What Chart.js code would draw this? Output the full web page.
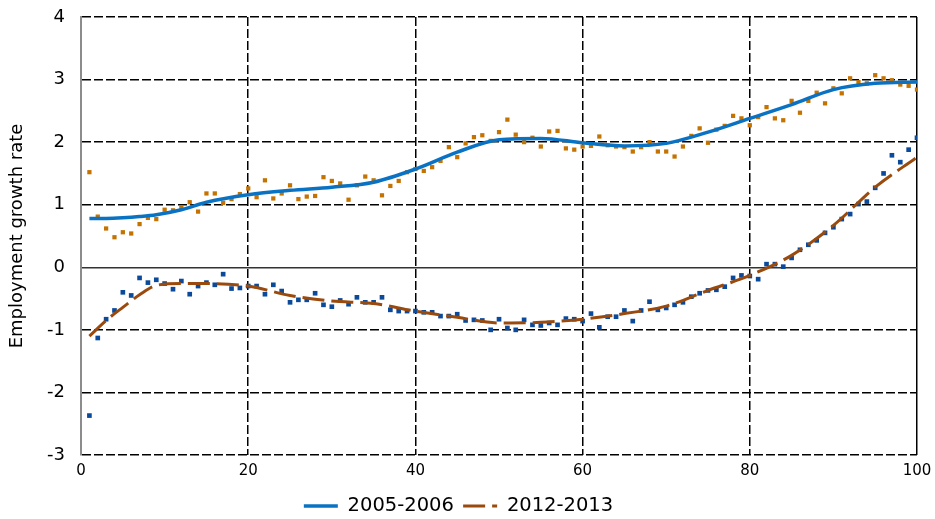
<!DOCTYPE html>
<html>
<head>
<meta charset="utf-8">
<script src="https://cdn.jsdelivr.net/npm/chart.js@4.4.1/dist/chart.umd.min.js"></script>
<style>
  html, body { margin: 0; padding: 0; background: #fff; }
  #wrap { width: 935px; height: 519px; }
</style>
</head>
<body>
<div id="wrap"><canvas id="growthChart"></canvas></div>
<script>
// percentiles on the x axis
const percentiles = Array.from({ length: 100 }, (_, i) => i + 1);

// scattered points, 2005-2006
const points0506 = [
  1.52, 0.81, 0.62, 0.48, 0.56, 0.54, 0.69, 0.79, 0.77, 0.92,
  0.91, 0.96, 1.04, 0.89, 1.18, 1.18, 1.03, 1.09, 1.17, 1.26,
  1.12, 1.39, 1.10, 1.18, 1.31, 1.09, 1.13, 1.14, 1.44, 1.38,
  1.34, 1.08, 1.31, 1.45, 1.39, 1.15, 1.30, 1.38, 1.52, 1.57,
  1.54, 1.60, 1.70, 1.92, 1.76, 1.98, 2.08, 2.11, 2.02, 2.16,
  2.36, 2.12, 2.00, 2.07, 1.93, 2.17, 2.18, 1.90, 1.88, 1.93,
  1.94, 2.09, 1.95, 1.93, 1.92, 1.85, 1.92, 2.00, 1.85, 1.85,
  1.77, 1.93, 2.10, 2.22, 1.99, 2.20, 2.26, 2.42, 2.38, 2.27,
  2.40, 2.56, 2.38, 2.35, 2.66, 2.47, 2.66, 2.79, 2.62, 2.86,
  2.78, 3.02, 2.96, 2.94, 3.07, 3.02, 2.99, 2.92, 2.90, 2.84
];

// scattered points, 2012-2013
const points1213 = [
  -2.37, -1.13, -0.83, -0.69, -0.40, -0.45, -0.17, -0.245, -0.20, -0.26,
  -0.35, -0.22, -0.43, -0.30, -0.245, -0.28, -0.11, -0.34, -0.33, -0.30,
  -0.30, -0.43, -0.28, -0.38, -0.56, -0.52, -0.52, -0.415, -0.60, -0.63,
  -0.53, -0.59, -0.48, -0.56, -0.56, -0.48, -0.68, -0.70, -0.70, -0.70,
  -0.72, -0.72, -0.78, -0.78, -0.75, -0.85, -0.84, -0.85, -1.00, -0.83,
  -0.97, -1.00, -0.84, -0.92, -0.93, -0.89, -0.92, -0.82, -0.83, -0.86,
  -0.74, -0.96, -0.79, -0.79, -0.69, -0.86, -0.69, -0.55, -0.68, -0.65,
  -0.60, -0.56, -0.47, -0.415, -0.37, -0.36, -0.31, -0.17, -0.13, -0.14,
  -0.19, 0.05, 0.05, 0.01, 0.15, 0.28, 0.36, 0.43, 0.55, 0.64,
  0.77, 0.85, 1.01, 1.05, 1.27, 1.50, 1.79, 1.68, 1.88, 2.07
];

// smoothed curves
const fitX = [1, 3, 5, 7, 9, 12, 15, 20, 25, 30, 35, 40, 45, 50, 55, 60, 65, 70, 75, 80, 85, 90, 95, 100];
const fit0506 = [0.78, 0.78, 0.79, 0.81, 0.84, 0.92, 1.04, 1.16, 1.23, 1.28, 1.36, 1.57, 1.84, 2.04, 2.06, 1.99, 1.94, 1.98, 2.16, 2.38, 2.60, 2.84, 2.94, 2.96];
const fit1213 = [-1.10, -0.85, -0.64, -0.44, -0.29, -0.26, -0.26, -0.30, -0.45, -0.54, -0.58, -0.70, -0.80, -0.89, -0.88, -0.83, -0.74, -0.62, -0.37, -0.13, 0.19, 0.67, 1.28, 1.76];

const xTicks = [0, 20, 40, 60, 80, 100];
const yTicks = [-3, -2, -1, 0, 1, 2, 3, 4];

const toXY = (xs, ys) => xs.map((x, i) => ({ x: x, y: ys[i] }));

Chart.defaults.font.family = "'DejaVu Sans', sans-serif";
Chart.defaults.color = "#000";

const ctx = document.getElementById("growthChart").getContext("2d");

const chart = new Chart(ctx, {
  type: "scatter",
  data: {
    datasets: [
      {
        label: "2005-2006",
        type: "line",
        data: toXY(fitX, fit0506),
        borderColor: "#0A72C2",
        backgroundColor: "#0A72C2",
        borderWidth: 3.5,
        pointRadius: 0,
        pointStyle: "line",
        cubicInterpolationMode: "monotone",
        fill: false,
      },
      {
        label: "2012-2013",
        type: "line",
        data: toXY(fitX, fit1213),
        borderColor: "#9A4A0C",
        backgroundColor: "#9A4A0C",
        borderWidth: 3,
        borderDash: [22, 7],
        pointRadius: 0,
        pointStyle: "line",
        cubicInterpolationMode: "monotone",
        fill: false,
      },
      {
        label: "2005-2006 points",
        data: toXY(percentiles, points0506),
        backgroundColor: "#C47200",
        borderWidth: 0,
        pointStyle: "rect",
        pointRadius: 3,
      },
      {
        label: "2012-2013 points",
        data: toXY(percentiles, points1213),
        backgroundColor: "#0B4A9A",
        borderWidth: 0,
        pointStyle: "rect",
        pointRadius: 3.3,
      },
    ],
  },
  options: {
    responsive: true,
    maintainAspectRatio: false,
    animation: false,
    layout: {
      padding: { top: 17, right: 18, bottom: -6.75, left: 0 },
    },
    plugins: {
      legend: {
        position: "bottom",
        labels: {
          // only the two curves, keeping the dash of the second one
          generateLabels: (c) =>
            Chart.defaults.plugins.legend.labels
              .generateLabels(c)
              .filter((l) => l.datasetIndex < 2)
              .map((l) => ({ ...l, lineDash: c.data.datasets[l.datasetIndex].borderDash || [] })),
          usePointStyle: true,
          pointStyleWidth: 34,
          padding: 9.25,
          font: { size: 19.5 },
          color: "#000",
        },
      },
      tooltip: { enabled: false },
    },
    scales: {
      x: {
        type: "linear",
        min: 0,
        max: 100,
        afterBuildTicks: (axis) => {
          axis.ticks = xTicks.map((v) => ({ value: v }));
        },
        ticks: { padding: 3, font: { size: 15, lineHeight: "26px" } },
        grid: {
          drawTicks: false,
          lineWidth: 1.5,
          color: (c) => (c.tick && c.tick.value === 0 ? "rgba(0,0,0,0)" : "#000"),
        },
        border: {
          display: false,
          dash: (c) => (c.tick && c.tick.value === 100 ? [] : [9, 3]),
        },
      },
      y: {
        type: "linear",
        min: -3,
        max: 4,
        afterBuildTicks: (axis) => {
          axis.ticks = yTicks.map((v) => ({ value: v }));
        },
        ticks: { padding: 16, font: { size: 18, lineHeight: "2px" } },
        title: {
          display: true,
          text: "Employment growth rate",
          font: { size: 18 },
          padding: { top: 6.7, bottom: 2.8 },
        },
        grid: {
          drawTicks: false,
          lineWidth: 1.5,
          color: (c) => (c.tick && c.tick.value === 0 ? "#333" : "#000"),
        },
        border: {
          display: true,
          color: "#8c8c8c",
          width: 2,
          dash: (c) => (c.tick && c.tick.value === 0 ? [] : [9, 3]),
        },
      },
    },
  },
});
</script>
</body>
</html>
